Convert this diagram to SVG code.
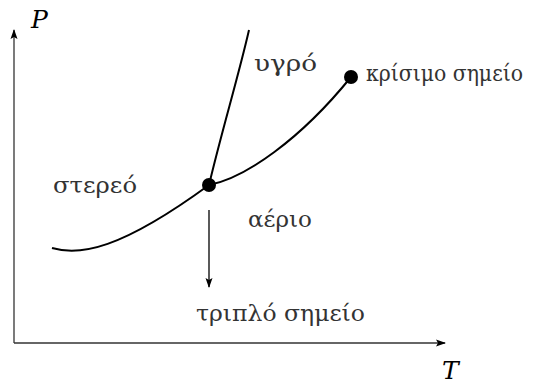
<svg xmlns="http://www.w3.org/2000/svg" width="551" height="385" viewBox="0 0 551 385">
<defs>
<marker id="ah" viewBox="0 0 10 10" refX="9" refY="5" markerWidth="10" markerHeight="10" markerUnits="userSpaceOnUse" orient="auto"><path d="M0,1.5 L10,5 L0,8.5 L2,5 Z" fill="#000"/></marker>
</defs>
<style>
.ax{stroke:#333;stroke-width:1.3;fill:none}
.cv{stroke:#000;stroke-width:2;fill:none}
.lb{font-family:"DejaVu Serif",serif;font-size:22px;fill:#333}
.it{font-family:"DejaVu Serif",serif;font-style:italic;font-size:25px;fill:#000}
</style>
<g id="connectors">
<line class="ax" x1="14" y1="343" x2="14" y2="30" marker-end="url(#ah)"/>
<line class="ax" x1="14" y1="343" x2="445" y2="343" marker-end="url(#ah)"/>
<path class="cv" d="M52,248 C80,256 120,250 209,185"/>
<path class="cv" d="M209,185 C222,130 238,78 249,30"/>
<path class="cv" d="M209,185 C245,178 300,140 351,77"/>
<line stroke="#000" stroke-width="1.3" x1="209" y1="210" x2="209" y2="287" marker-end="url(#ah)"/>
</g>
<g id="triple"><circle cx="209" cy="185" r="7" fill="#000"/></g>
<g id="critical"><circle cx="351" cy="77" r="7" fill="#000"/></g>
<g id="labels">
<text class="it" x="31" y="28">P</text>
<text class="it" x="442" y="379">T</text>
<text class="lb" x="254" y="71" textLength="63" lengthAdjust="spacingAndGlyphs">υγρό</text>
<text class="lb" x="366" y="81" textLength="157" lengthAdjust="spacingAndGlyphs">κρίσιμο σημείο</text>
<text class="lb" x="53" y="193" textLength="84" lengthAdjust="spacingAndGlyphs">στερεό</text>
<text class="lb" x="248" y="227" textLength="64" lengthAdjust="spacingAndGlyphs">αέριο</text>
<text class="lb" x="196" y="321" textLength="169" lengthAdjust="spacingAndGlyphs">τριπλό σημείο</text>
</g>
</svg>
